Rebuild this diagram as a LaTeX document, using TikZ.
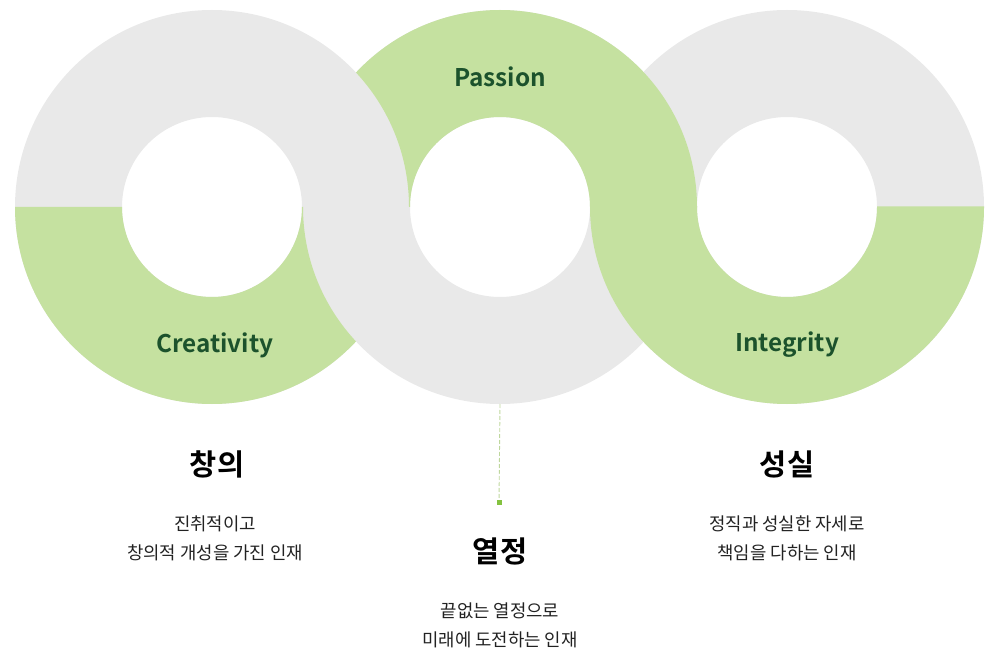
\documentclass[tikz,border=0pt]{standalone}
\usepackage{fontspec}
\setmainfont{Noto Sans CJK KR}
\newfontfamily\krbold{Noto Sans CJK KR Bold}
\definecolor{ringgreen}{RGB}{197,225,160}
\definecolor{ringgray}{RGB}{233,233,233}
\definecolor{labelgreen}{RGB}{28,82,44}
\definecolor{dotgreen}{RGB}{132,194,64}
\definecolor{bodytext}{RGB}{34,34,34}
\begin{document}
\begin{tikzpicture}[x=1pt,y=1pt,
  engl/.style={font=\krbold\fontsize{24.3}{27}\selectfont,text=labelgreen,inner sep=0},
  head/.style={font=\krbold\fontsize{29.5}{32}\selectfont,text=black,inner sep=0},
  body/.style={font=\fontsize{17.8}{29}\selectfont,text=bodytext,align=center,inner sep=0},
  half/.style={fill=#1}]
\useasboundingbox (0,0) rectangle (1000,662);
\def\R{197}\def\r{90}
\newcommand\tophalf[3]{\path[half=#3] (#1+\R,#2) arc[start angle=0,end angle=180,radius=\R] -- (#1-\r,#2) arc[start angle=180,end angle=0,radius=\r] -- cycle;}
\newcommand\bothalf[4]{\path[half=#3] (#1+\R,#2+#4) -- (#1+\R,#2) arc[start angle=0,end angle=-180,radius=\R] -- (#1-\R,#2+#4) -- (#1-\r,#2+#4) -- (#1-\r,#2) arc[start angle=-180,end angle=0,radius=\r] -- (#1+\r,#2+#4) -- cycle;}
% gray base rings
\foreach \cx in {212,500,787}
  \fill[ringgray,even odd rule] (\cx,455) circle[radius=\R] (\cx,455) circle[radius=\r];
% left ring bottom green, under middle ring
\begin{scope}[even odd rule]
  \clip (0,0) rectangle (1000,662) (500,455) circle[radius=\R];
  \bothalf{212}{455}{ringgreen}{0}
\end{scope}
% middle ring top green, under left ring
\begin{scope}[even odd rule]
  \clip (0,0) rectangle (1000,662) (212,455) circle[radius=\R];
  \tophalf{500}{455}{ringgreen}
\end{scope}
% right ring bottom green, on top
\bothalf{787}{455}{ringgreen}{0.7}
% labels
\node[engl] (passion) at (500,585) {Passion};
\node[engl] (creat) at (215,317) {Creativity};
\node[engl] (integ) at (787,317) {Integrity};
% dashed connector
\coordinate (mbot) at (500,258);
\node[fill=dotgreen,minimum size=5pt,inner sep=0] (dot) at (499,160) {};
\draw[ringgreen!90!gray,dash pattern=on 4pt off 2pt,line width=0.9pt] (mbot) -- (dot);
% Korean texts
\node[head] (h1) at (217,198) {창의};
\node[body] (b1) at (215,124) {진취적이고\\창의적 개성을 가진 인재};
\node[head] (h2) at (500,111) {열정};
\node[body] (b2) at (500,37) {끝없는 열정으로\\미래에 도전하는 인재};
\node[head] (h3) at (787,198) {성실};
\node[body] (b3) at (787,124) {정직과 성실한 자세로\\책임을 다하는 인재};
\end{tikzpicture}
\end{document}
